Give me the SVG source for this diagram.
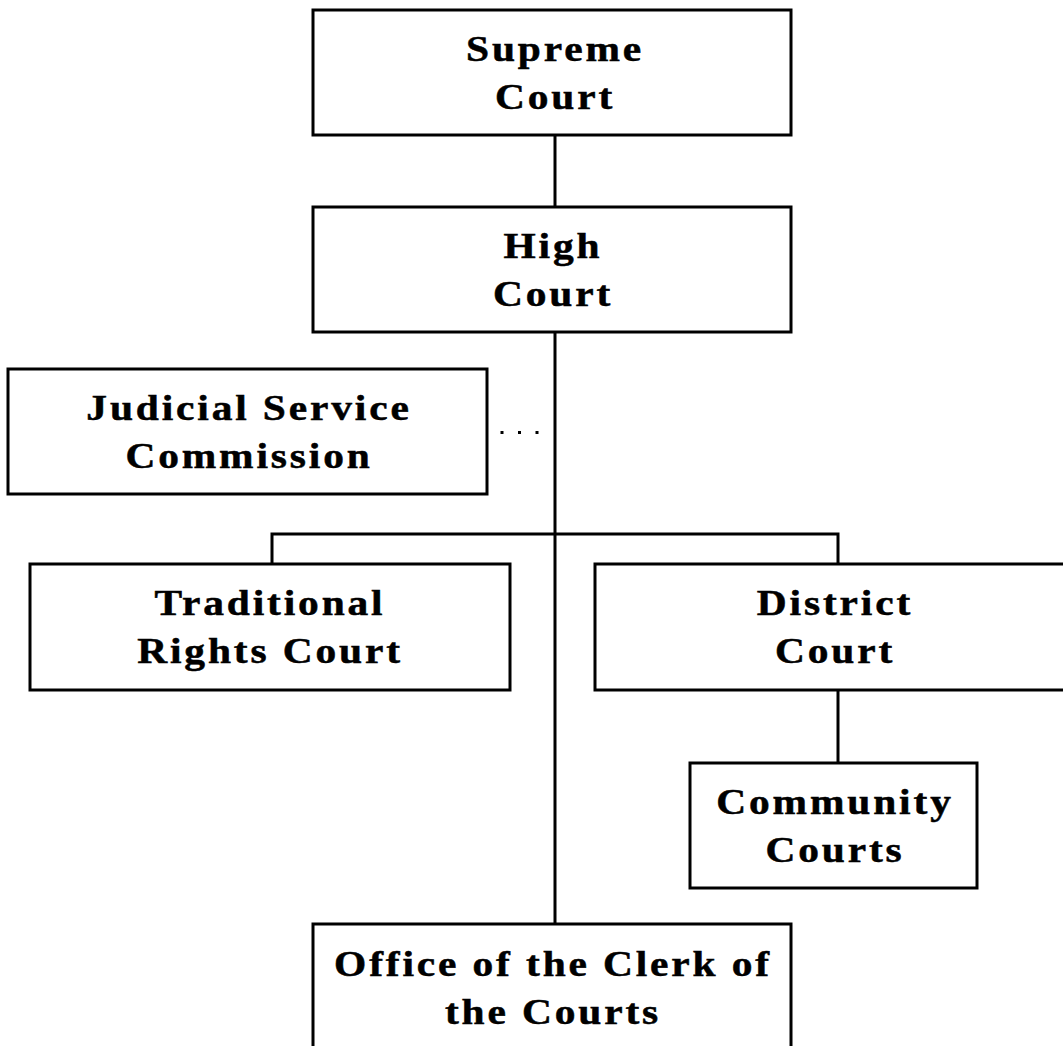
<svg xmlns="http://www.w3.org/2000/svg" width="1063" height="1046" viewBox="0 0 1063 1046">
<style>
.box{fill:#fff;stroke:#000;stroke-width:3}
.lbl{font-family:"Liberation Serif","Times New Roman",serif;font-weight:bold;font-size:36px;letter-spacing:2.5px;text-anchor:middle;fill:#000;stroke:#000;stroke-width:0.5}
.ln{stroke:#000;stroke-width:3;fill:none}
.dot{stroke:#000;stroke-width:3;fill:none;stroke-dasharray:3 14.5}
</style>
<rect width="1063" height="1046" fill="#fff"/>
<g id="connectors">
<line class="ln" x1="555" y1="135" x2="555" y2="207"/>
<line class="ln" x1="555" y1="332" x2="555" y2="924"/>
<line class="dot" x1="500.5" y1="432.5" x2="553" y2="432.5"/>
<polyline class="ln" points="272,564 272,534 838,534 838,564"/>
<line class="ln" x1="838" y1="690" x2="838" y2="762"/>
</g>
<g id="supreme">
<rect class="box" x="313" y="10" width="478" height="125"/>
<text class="lbl" transform="translate(555,61) scale(1.15,1)">Supreme</text>
<text class="lbl" transform="translate(555,109) scale(1.15,1)">Court</text>
</g>
<g id="high">
<rect class="box" x="313" y="207" width="478" height="125"/>
<text class="lbl" transform="translate(553,258) scale(1.15,1)">High</text>
<text class="lbl" transform="translate(553,306) scale(1.15,1)">Court</text>
</g>
<g id="jsc">
<rect class="box" x="8" y="369" width="479" height="125"/>
<text class="lbl" transform="translate(249,420) scale(1.15,1)">Judicial Service</text>
<text class="lbl" transform="translate(249,468) scale(1.15,1)">Commission</text>
</g>
<g id="traditional">
<rect class="box" x="30" y="564" width="480" height="126"/>
<text class="lbl" transform="translate(270,615) scale(1.15,1)">Traditional</text>
<text class="lbl" transform="translate(270,663) scale(1.15,1)">Rights Court</text>
</g>
<g id="district">
<rect class="box" x="595" y="564" width="478" height="126"/>
<text class="lbl" transform="translate(835,615) scale(1.15,1)">District</text>
<text class="lbl" transform="translate(835,663) scale(1.15,1)">Court</text>
</g>
<g id="community">
<rect class="box" x="690" y="763" width="287" height="125"/>
<text class="lbl" transform="translate(835,814) scale(1.15,1)">Community</text>
<text class="lbl" transform="translate(835,862) scale(1.15,1)">Courts</text>
</g>
<g id="clerk">
<rect class="box" x="313" y="924" width="478" height="130"/>
<text class="lbl" transform="translate(553,976) scale(1.15,1)">Office of the Clerk of</text>
<text class="lbl" transform="translate(553,1024) scale(1.15,1)">the Courts</text>
</g>
</svg>
